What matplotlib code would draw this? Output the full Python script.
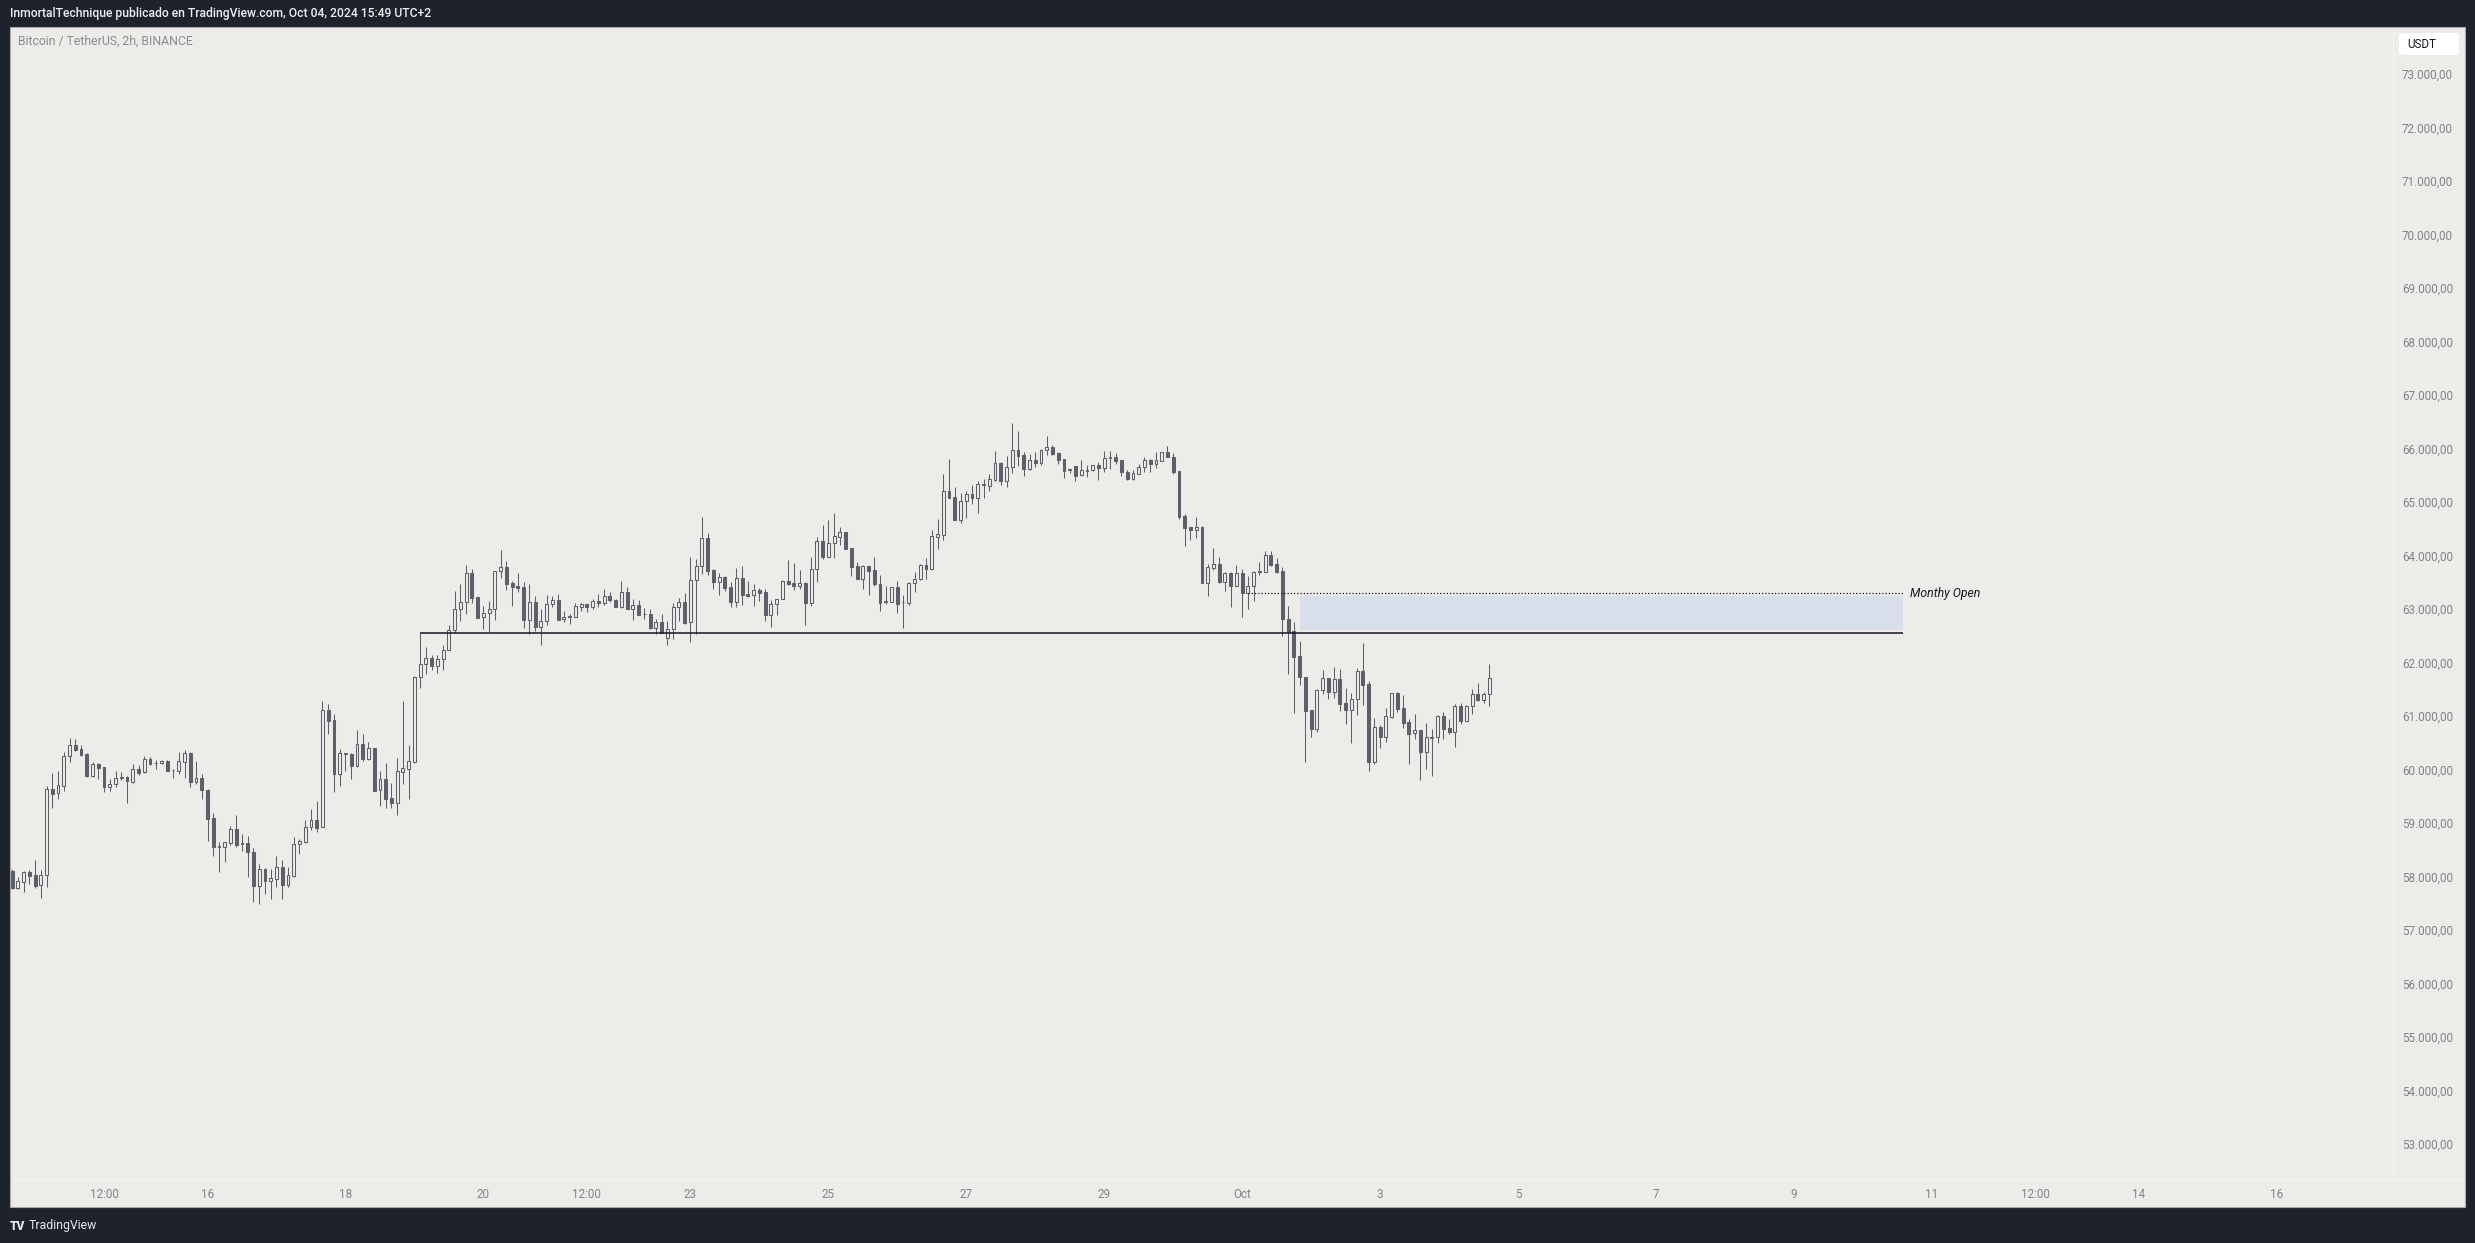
import numpy as np
import pandas as pd
import matplotlib
matplotlib.use('Agg')
import matplotlib.pyplot as plt
import matplotlib.dates as mdates
from matplotlib.patches import Rectangle, FancyBboxPatch
from matplotlib.lines import Line2D

plt.rcParams['font.family'] = ['Roboto', 'DejaVu Sans']

# BTCUSDT 2h candles, Sep 13 04:00 -> Oct 04 14:00 (one row = one day-ish, 12 bars)
open_ = [58104, 57793, 57905, 58086, 58023, 57836, 58023, 59631, 59556, 59699, 60247, 60453,
         60378, 60291, 59880, 60104, 60042, 59668, 59724, 59842, 59855, 59774, 60004, 59948,
         60191, 60117, 60117, 60160, 59992, 59973, 60148, 60310, 59774, 59836, 59618, 59089,
         58572, 58547, 58634, 58889, 58628, 58621, 58459, 57830, 58142, 57911, 57961, 58173,
         57849, 58017, 58603, 58646, 58920, 59057, 58920, 61107, 60920, 59923, 60310, 60291,
         60067, 60478, 60204, 60403, 59612, 59824, 59475, 59381, 59961, 60017, 60148, 61724,
         61967, 62079, 61942, 62060, 62228, 62602, 62995, 63125, 63674, 63225, 62845, 62920,
         62995, 63705, 63780, 63481, 63431, 63406, 62801, 63132, 62671, 62770, 63088, 63169,
         62808, 62870, 62858, 63044, 63088, 63044, 63144, 63119, 63238, 63169, 63044, 63312,
         63007, 63069, 62901, 62901, 62646, 62758, 62452, 62621, 63032, 63125, 62751, 63536,
         63798, 64321, 63723, 63511, 63592, 63406, 63138, 63574, 63281, 63256, 63356, 63312,
         62895, 63088, 63181, 63518, 63480, 63437, 63480, 63119, 63742, 64272, 63979, 64228,
         64353, 64434, 64141, 63804, 63568, 63804, 63730, 63468, 63138, 63138, 63412, 63125,
         63119, 63487, 63555, 63823, 63748, 64353, 64390, 65206, 65094, 64670, 65013, 65150,
         65082, 65325, 65306, 65412, 65730, 65399, 65649, 65966, 65873, 65624, 65779, 65736,
         65966, 66022, 65916, 65798, 65605, 65667, 65499, 65586, 65593, 65692, 65642, 65817,
         65842, 65779, 65561, 65437, 65530, 65649, 65779, 65717, 65767, 65929, 65835, 65586,
         64733, 64527, 64484, 64540, 63493, 63773, 63836, 63512, 63667, 63437, 63667, 63294,
         63424, 63686, 63699, 64004, 63836, 63705, 62821, 62590, 62117, 61724, 61107, 60765,
         61481, 61705, 61456, 61687, 61238, 61120, 61313, 61836, 61593, 60148, 60790, 60615,
         60989, 61425, 61145, 60883, 60677, 60734, 60335, 60596, 60603, 61001, 60777, 60709,
         61188, 60914, 61182, 61406, 61294, 61406]
high = [58142, 57992, 58104, 58123, 58304, 58123, 59693, 59936, 59973, 60328, 60590, 60571,
        60459, 60310, 60141, 60123, 60042, 59824, 59973, 59954, 59880, 60104, 60079, 60254,
        60235, 60179, 60179, 60179, 60004, 60328, 60366, 60328, 60160, 59917, 59637, 59188,
        58646, 58640, 58945, 59151, 58796, 58758, 58534, 58235, 58154, 58142, 58385, 58310,
        58179, 58740, 58696, 59057, 59263, 59419, 61282, 61225, 61045, 60384, 60310, 60310,
        60740, 60665, 60515, 60403, 59973, 60123, 59749, 60216, 61282, 60459, 61749, 62546,
        62291, 62141, 62141, 62328, 62702, 63337, 63468, 63823, 63748, 63225, 63057, 63150,
        63711, 64104, 63898, 63524, 63674, 63505, 63468, 63244, 63001, 63262, 63244, 63281,
        62963, 62914, 63113, 63113, 63088, 63188, 63281, 63375, 63312, 63188, 63524, 63406,
        63188, 63169, 63020, 63001, 62814, 62901, 62770, 63113, 63206, 63300, 63973, 63929,
        64720, 64421, 63748, 63673, 63617, 63499, 63767, 63804, 63524, 63468, 63393, 63374,
        63169, 63181, 63536, 63916, 63860, 63730, 63511, 63973, 64346, 64571, 64664, 64795,
        64533, 64434, 64141, 63873, 63823, 63804, 63973, 63636, 63431, 63412, 63518, 63262,
        63505, 63686, 63848, 63948, 64471, 64677, 65524, 65798, 65275, 65163, 65200, 65318,
        65399, 65424, 65524, 65954, 65754, 65860, 66477, 66328, 65929, 65898, 65935, 65985,
        66234, 66066, 65941, 65798, 65617, 65667, 65779, 65686, 65686, 65748, 65954, 65954,
        65916, 65779, 65605, 65599, 65705, 65835, 65804, 65929, 65929, 66047, 65910, 65586,
        64770, 64527, 64720, 64546, 63836, 64141, 63966, 63699, 63699, 63823, 63742, 63611,
        63705, 63873, 64091, 64079, 63948, 63780, 63051, 62752, 62403, 61724, 61107, 61500,
        61855, 61705, 61911, 61874, 61525, 61425, 61899, 62366, 61649, 60958, 60833, 61145,
        61425, 61444, 61388, 60939, 61039, 60734, 60864, 60752, 61020, 61070, 60945, 61226,
        61238, 61207, 61506, 61618, 61450, 61973]
low = [57768, 57774, 57718, 57868, 57793, 57606, 57811, 59288, 59456, 59606, 60148, 60353,
       60260, 59867, 59867, 59830, 59587, 59606, 59680, 59811, 59381, 59755, 59905, 59942,
       60092, 60017, 60104, 59979, 59849, 59923, 59849, 59680, 59724, 59450, 58671, 58391,
       58092, 58279, 58596, 58559, 58484, 57998, 57531, 57481, 57681, 57587, 57811, 57587,
       57811, 57998, 58428, 58621, 58877, 58839, 58920, 60671, 59587, 59693, 59979, 59830,
       60054, 60166, 60185, 59606, 59325, 59288, 59288, 59157, 59737, 59456, 60130, 61531,
       61780, 61867, 61798, 61867, 62228, 62552, 62783, 62914, 63119, 62839, 62633, 62577,
       62801, 63586, 63362, 63063, 63325, 62652, 62527, 62596, 62334, 62696, 63044, 62801,
       62764, 62727, 62858, 62970, 62951, 63007, 63044, 63069, 63138, 63044, 63026, 62995,
       62801, 62895, 62820, 62633, 62527, 62546, 62328, 62446, 62783, 62720, 62390, 62527,
       63661, 63642, 63381, 63269, 63343, 63044, 63044, 63082, 63231, 63063, 63156, 62783,
       62670, 62882, 63181, 63455, 63362, 63381, 62708, 63063, 63511, 63941, 63979, 63960,
       64203, 64116, 63624, 63568, 63381, 63269, 63424, 62969, 63100, 63138, 62932, 62652,
       63082, 63312, 63543, 63568, 63736, 64128, 64297, 65082, 64670, 64614, 64708, 64970,
       64801, 65082, 65212, 65399, 65325, 65287, 65549, 65680, 65493, 65593, 65661, 65698,
       65879, 65879, 65711, 65449, 65549, 65399, 65480, 65474, 65574, 65412, 65567, 65624,
       65705, 65493, 65418, 65418, 65530, 65555, 65567, 65630, 65767, 65835, 65518, 64677,
       64172, 64284, 64334, 63493, 63238, 63736, 63487, 63343, 63032, 63437, 62845, 62995,
       63156, 63630, 63699, 63811, 63680, 62503, 61793, 61064, 61587, 60148, 60615, 60709,
       61419, 61325, 61344, 61101, 60858, 60503, 61026, 61213, 59980, 60111, 60410, 60509,
       60970, 61082, 60783, 60111, 60578, 59811, 60017, 59886, 60503, 60578, 60671, 60428,
       60858, 60914, 61045, 61275, 61251, 61194]
close = [57780, 57917, 58079, 58017, 57830, 58023, 59631, 59550, 59705, 60247, 60453, 60372,
         60279, 59880, 60098, 60036, 59668, 59724, 59836, 59855, 59780, 60004, 59942, 60191,
         60110, 60117, 60154, 59979, 59992, 60154, 60303, 59774, 59836, 59612, 59082, 58559,
         58547, 58640, 58889, 58596, 58603, 58453, 57830, 58135, 57911, 57967, 58173, 57849,
         58023, 58609, 58665, 58920, 59057, 58914, 61107, 60914, 59923, 60303, 60285, 60073,
         60472, 60198, 60397, 59606, 59824, 59456, 59381, 59973, 60023, 60160, 61730, 61967,
         62079, 61942, 62060, 62228, 62602, 62995, 63125, 63674, 63213, 62839, 62920, 62995,
         63711, 63780, 63474, 63418, 63400, 62801, 63132, 62671, 62770, 63088, 63163, 62801,
         62845, 62845, 63051, 63088, 63044, 63144, 63119, 63238, 63163, 63044, 63312, 63001,
         63069, 62895, 62901, 62646, 62752, 62546, 62621, 63032, 63125, 62739, 63536, 63798,
         64321, 63717, 63511, 63592, 63399, 63138, 63574, 63269, 63250, 63350, 63306, 62895,
         63088, 63181, 63518, 63474, 63437, 63480, 63119, 63748, 64272, 63979, 64228, 64359,
         64434, 64128, 63792, 63568, 63804, 63717, 63462, 63119, 63138, 63412, 63100, 63125,
         63487, 63555, 63829, 63755, 64359, 64396, 65206, 65082, 64670, 65019, 65150, 65075,
         65331, 65337, 65424, 65730, 65399, 65655, 65966, 65867, 65624, 65779, 65736, 65966,
         66022, 65898, 65792, 65586, 65605, 65493, 65593, 65599, 65686, 65642, 65817, 65842,
         65773, 65555, 65437, 65543, 65649, 65779, 65717, 65779, 65929, 65835, 65567, 64726,
         64521, 64484, 64527, 63493, 63780, 63836, 63505, 63667, 63437, 63667, 63294, 63424,
         63686, 63705, 64004, 63829, 63699, 62820, 62578, 62110, 61724, 61101, 60765, 61487,
         61705, 61456, 61687, 61232, 61120, 61313, 61836, 61587, 60148, 60790, 60615, 60995,
         61425, 61138, 60877, 60671, 60734, 60335, 60603, 60609, 61001, 60765, 60709, 61188,
         60914, 61188, 61406, 61294, 61406, 61712]

# drawings on the chart
support_level = 62546
monthly_open = 63293
zone_low, zone_high = 62607, 63243

tick_times = ['2024-09-14 12:00', '2024-09-16', '2024-09-18', '2024-09-20', '2024-09-21 12:00',
              '2024-09-23', '2024-09-25', '2024-09-27', '2024-09-29', '2024-10-01', '2024-10-03',
              '2024-10-05', '2024-10-07', '2024-10-09', '2024-10-11', '2024-10-12 12:00',
              '2024-10-14', '2024-10-16']
tick_labels = ['12:00', '16', '18', '20', '12:00', '23', '25', '27', '29', 'Oct', '3',
               '5', '7', '9', '11', '12:00', '14', '16']
price_ticks = list(range(53000, 73001, 1000))

BG = '#edece9'
DARK = '#1e222d'
CANDLE = '#5d606b'
INK = '#131722'
AXIS_TXT = '#80838c'

W, H = 2475, 1243


def fx(px):
    return px / W


def fy(py):
    return 1 - py / H


fig = plt.figure(figsize=(W / 100, H / 100), dpi=100, facecolor=DARK)

# chart panel (behind the axes)
fig.patches.append(Rectangle((fx(10), fy(1207)), fx(2465) - fx(10), fy(27) - fy(1207),
                             transform=fig.transFigure, fc=BG, ec='#a6a9b0', lw=0.8, zorder=-5))
fig.add_artist(Line2D([fx(2393), fx(2393)], [fy(28), fy(1180)], transform=fig.transFigure,
                      color='#f4f3f1', lw=0.8, zorder=-4))
fig.add_artist(Line2D([fx(11), fx(2464)], [fy(1180), fy(1180)], transform=fig.transFigure,
                      color='#f4f3f1', lw=0.8, zorder=-4))

ax = fig.add_axes([fx(10), fy(1180), fx(2393) - fx(10), fy(27) - fy(1180)])
ax.set_facecolor('none')
ax.set_zorder(1)

times = pd.date_range('2024-09-13 04:00', periods=len(close), freq='2h')
x = mdates.date2num(times)
o = np.array(open_, float)
c = np.array(close, float)
hi = np.array(high, float)
lo = np.array(low, float)

ax.vlines(x, lo, hi, color=CANDLE, lw=0.75, zorder=2)
faces = [CANDLE if cc < oo else BG for oo, cc in zip(o, c)]
ax.bar(x, np.maximum(np.abs(c - o), 6), bottom=np.minimum(o, c), width=0.042,
       color=faces, edgecolor=CANDLE, linewidth=0.75, zorder=3)

t = lambda s: mdates.date2num(pd.Timestamp(s))
line_end = t('2024-10-10 14:00')
ax.add_patch(Rectangle((t('2024-10-01 20:00'), zone_low), line_end - t('2024-10-01 20:00'),
                       zone_high - zone_low, fc='#d9deeb', ec='none', zorder=1))
ax.hlines(support_level, t('2024-09-19 02:00'), line_end, color=INK, lw=1.1, zorder=4)
ax.hlines(monthly_open, t('2024-10-01 02:00'), line_end, color=INK, lw=0.9,
          linestyles=(0, (1, 1.6)), zorder=4)
ax.text(t('2024-10-10 16:20'), monthly_open, 'Monthy Open', style='italic', fontsize=8.8,
        color=INK, ha='left', va='center')

ax.set_xlim(t('2024-09-13 03:17'), t('2024-10-17 16:24'))
ax.set_ylim(52327, 73878)

ax.set_xticks([t(s) for s in tick_times])
ax.set_xticklabels(tick_labels)
ax.set_yticks(price_ticks)
ax.set_yticklabels([f"{v:,}".replace(',', '.') + ',00' for v in price_ticks])
ax.yaxis.tick_right()
ax.tick_params(axis='y', length=0, pad=6.5, labelsize=8.4, labelcolor=AXIS_TXT)
ax.tick_params(axis='x', length=0, pad=5.5, labelsize=8.4, labelcolor=AXIS_TXT)
for s in ax.spines.values():
    s.set_visible(False)

# header / captions
fig.text(fx(10), fy(14), 'InmortalTechnique publicado en TradingView.com, Oct 04, 2024 15:49 UTC+2',
         color='#eceff4', fontsize=8.7, fontweight='medium', ha='left', va='center')
fig.text(fx(18), fy(41.5), 'Bitcoin / TetherUS, 2h, BINANCE', color='#8a8c93', fontsize=8.8,
         ha='left', va='center')

fig.patches.append(FancyBboxPatch((fx(2399), fy(55)), fx(2459) - fx(2399), fy(33) - fy(55),
                                  boxstyle='round,pad=0,rounding_size=0.002',
                                  transform=fig.transFigure, fc='white', ec='none', zorder=2))
fig.text(fx(2407), fy(44), 'USDT', color=INK, fontsize=8.4, ha='left', va='center', zorder=3)

# footer logo
fig.text(fx(10), fy(1226), 'TV', color='#e6e8ee', fontsize=8.6, fontweight='heavy',
         ha='left', va='center')
fig.text(fx(29), fy(1226), 'TradingView', color='#e6e8ee', fontsize=8.8, ha='left', va='center')

fig.savefig('out.png', dpi=100, facecolor=DARK)
